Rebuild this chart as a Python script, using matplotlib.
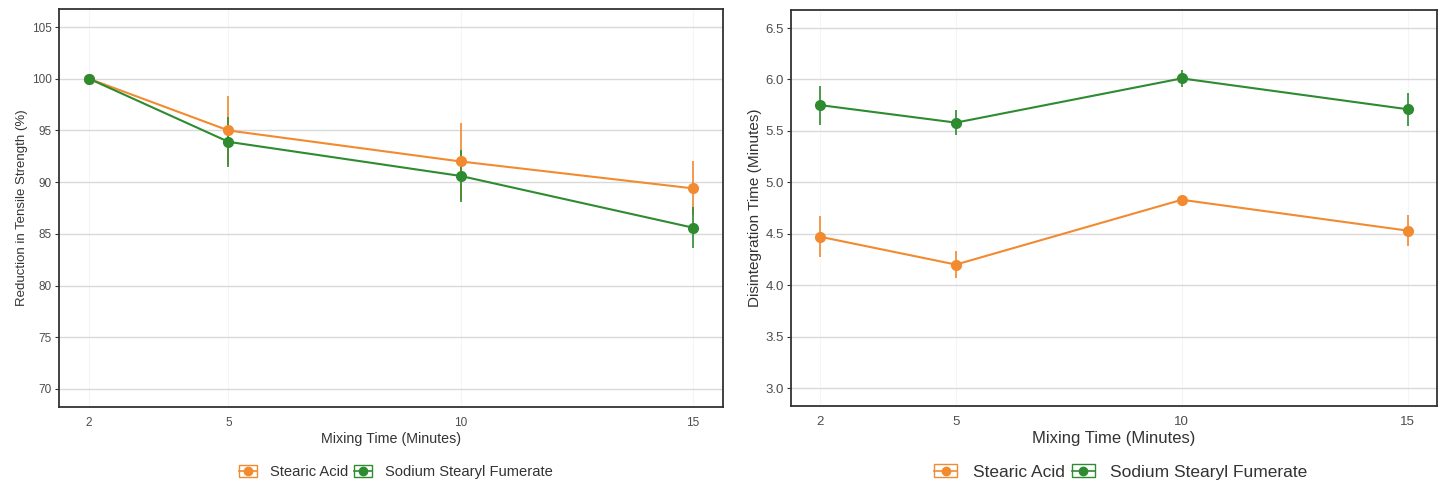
import matplotlib
matplotlib.use("Agg")
import matplotlib.pyplot as plt
from matplotlib.lines import Line2D
from matplotlib.patches import Patch
from matplotlib.legend_handler import HandlerTuple

plt.rcParams['font.family'] = ['Liberation Sans', 'DejaVu Sans']

# ---- data ----
mixing_time = [2, 5, 10, 15]
series_names = ["Stearic Acid", "Sodium Stearyl Fumerate"]

ts_stearic = [100.0, 95.0, 92.0, 89.4]
ts_stearic_err = [0.0, 3.3, 3.7, 2.6]
ts_ssf = [100.0, 93.9, 90.6, 85.6]
ts_ssf_err = [0.0, 2.45, 2.5, 1.95]

dt_stearic = [4.47, 4.20, 4.83, 4.53]
dt_stearic_err = [0.20, 0.13, 0.03, 0.15]
dt_ssf = [5.75, 5.58, 6.01, 5.71]
dt_ssf_err = [0.19, 0.12, 0.08, 0.16]

left_yticks = [70, 75, 80, 85, 90, 95, 100, 105]
right_yticks = [3.0, 3.5, 4.0, 4.5, 5.0, 5.5, 6.0, 6.5]

c_orange = "#F28A30"
c_green = "#2E8B30"

fig = plt.figure(figsize=(14.45, 4.87), dpi=100)
axL = fig.add_axes([59/1445, 1-407/487, 664/1445, 398/487])
axR = fig.add_axes([791/1445, 1-406/487, 646/1445, 396/487])


def style(ax, yticks, ylim, yfmt, ylabel, xlab_fs, ylab_fs, tick_fs):
    ax.set_xlim(1.35, 15.65)
    ax.set_ylim(*ylim)
    ax.set_xticks(mixing_time)
    ax.set_xticklabels([str(v) for v in mixing_time])
    ax.set_yticks(yticks)
    ax.set_yticklabels([yfmt.format(v) for v in yticks])
    ax.grid(axis='y', color='#d9d9d9', linewidth=1.0)
    ax.grid(axis='x', color='#f5f5f5', linewidth=0.8)
    ax.set_axisbelow(True)
    for s in ax.spines.values():
        s.set_color('#333333')
        s.set_linewidth(1.3)
    ax.tick_params(axis='y', length=3, color='#333333', labelsize=tick_fs,
                   labelcolor='#4d4d4d', pad=2)
    ax.tick_params(axis='x', length=0, labelsize=tick_fs,
                   labelcolor='#4d4d4d', pad=7)
    ax.set_xlabel("Mixing Time (Minutes)", fontsize=xlab_fs, color='#333333', labelpad=2)
    ax.set_ylabel(ylabel, fontsize=ylab_fs, color='#333333', labelpad=3)


def draw(ax, y, e, color):
    ax.plot(mixing_time, y, color=color, lw=1.5, zorder=3)
    ax.errorbar(mixing_time, y, yerr=e, fmt='o', color=color, ms=7,
                elinewidth=1.2, capsize=0, zorder=4)


draw(axL, ts_stearic, ts_stearic_err, c_orange)
draw(axL, ts_ssf, ts_ssf_err, c_green)
draw(axR, dt_stearic, dt_stearic_err, c_orange)
draw(axR, dt_ssf, dt_ssf_err, c_green)

style(axL, left_yticks, (68.25, 106.75), "{:d}", "Reduction in Tensile Strength (%)", 10.3, 9.5, 8.5)
style(axR, right_yticks, (2.825, 6.675), "{:.1f}", "Disintegration Time (Minutes)", 12, 11, 9.5)


def handles():
    hs = []
    for c in (c_orange, c_green):
        box = Patch(facecolor='white', edgecolor=c, linewidth=1.0)
        pt = Line2D([], [], marker='o', ms=6, color=c, lw=1.2)
        hs.append((box, pt))
    return hs


for cx, fs, hl, hh in ((396/1445, 10.6, 1.23, 0.82), (1121/1445, 12.5, 1.33, 0.8)):
    fig.legend(handles(), series_names, loc='center', bbox_to_anchor=(cx, 1-472/487),
               ncol=2, frameon=False, fontsize=fs, handlelength=hl, handleheight=hh,
               handletextpad=0.9, columnspacing=0.4,
               handler_map={tuple: HandlerTuple(ndivide=1, pad=0)},
               labelcolor='#333333')

fig.savefig("out.png", dpi=100, facecolor='white')
